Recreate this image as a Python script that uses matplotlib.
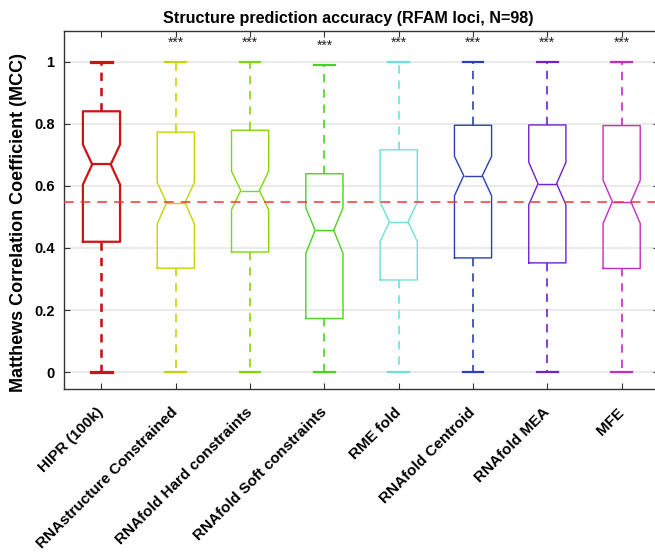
import numpy as np
import matplotlib
matplotlib.use('Agg')
import matplotlib.pyplot as plt

plt.rcParams['font.family'] = ['Liberation Sans', 'DejaVu Sans']
plt.rcParams['lines.scale_dashes'] = False

labels = ['HIPR (100k)', 'RNAstructure Constrained', 'RNAfold Hard constraints',
          'RNAfold Soft constraints', 'RME fold', 'RNAfold Centroid', 'RNAfold MEA', 'MFE']
q1 = [0.420, 0.335, 0.387, 0.173, 0.297, 0.368, 0.352, 0.334]
med = [0.669, 0.546, 0.585, 0.457, 0.484, 0.633, 0.607, 0.549]
q3 = [0.840, 0.773, 0.779, 0.639, 0.716, 0.795, 0.796, 0.794]
ci_lo = [0.604, 0.477, 0.523, 0.383, 0.421, 0.568, 0.539, 0.479]
ci_hi = [0.733, 0.611, 0.647, 0.529, 0.547, 0.695, 0.676, 0.618]
whis_lo = [0, 0, 0, 0, 0, 0, 0, 0]
whis_hi = [1.0, 1.0, 1.0, 0.99, 1.0, 1.0, 1.0, 1.0]
signif = ['', '***', '***', '***', '***', '***', '***', '***']
ref_mcc = 0.549

colors = ['#cc1414', '#c4d400', '#80d800', '#48d41c', '#6ee0d8',
          '#2c40b4', '#7020cc', '#c42cbe']

fig = plt.figure(figsize=(6.55, 5.6), dpi=100)
ax = fig.add_axes([0.0982, 0.3048, 0.9076, 0.6407])

pos = np.arange(1, len(labels) + 1)

# horizontal grid
for yv in np.arange(0, 1.01, 0.2):
    ax.axhline(yv, color='#e4e4e4', lw=1.1, zorder=0)

for i in range(len(labels)):
    st = [dict(med=med[i], q1=q1[i], q3=q3[i], whislo=whis_lo[i], whishi=whis_hi[i],
               cilo=ci_lo[i], cihi=ci_hi[i], fliers=[])]
    lw = 1.6 if i == 0 else 1.0
    wlw = 1.9 if i == 0 else 1.2
    c = colors[i]
    ax.bxp(st, positions=[pos[i]], widths=0.5, capwidths=0.28, shownotches=True,
           showfliers=False, patch_artist=False,
           boxprops=dict(color=c, lw=lw),
           medianprops=dict(color=c, lw=lw),
           whiskerprops=dict(color=c, lw=wlw, linestyle=(0, (6, 5))),
           capprops=dict(color=c, lw=wlw + 0.4))
    if signif[i]:
        ax.text(pos[i], whis_hi[i] + 0.06, signif[i], ha='center', va='center',
                fontsize=10, color='#222222')

ax.axhline(ref_mcc, color='#ff3030', lw=1.1, linestyle=(0, (7, 5)), zorder=3)

ax.set_xlim(0.5, 8.5)
ax.set_ylim(-0.055, 1.1)
ax.set_yticks([0, 0.2, 0.4, 0.6, 0.8, 1])
ax.set_yticklabels(['0', '0.2', '0.4', '0.6', '0.8', '1'], fontweight='bold', fontsize=10.5)
ax.set_xticks(pos)
ax.set_xticklabels(labels, rotation=45, ha='right', va='center', rotation_mode='anchor',
                   fontsize=11, fontweight='bold')
ax.tick_params(direction='in', length=4, width=0.8, top=True, right=True, color='#333333')
ax.tick_params(axis='y', pad=7)
ax.tick_params(axis='x', pad=15)
for s in ax.spines.values():
    s.set_color('#333333')
    s.set_linewidth(1.0)

ax.set_ylabel('Matthews Correlation Coefficient (MCC)', fontsize=13, fontweight='bold')
ax.yaxis.set_label_coords(-0.063, 0.465)
fig.text(348 / 655, 1 - 19 / 560, 'Structure prediction accuracy (RFAM loci, N=98)',
         ha='center', va='center', fontsize=11.6, fontweight='bold')

fig.savefig('out.png', dpi=100)
